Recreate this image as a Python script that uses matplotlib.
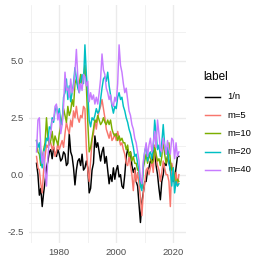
import numpy as np
import matplotlib
matplotlib.use("Agg")
import matplotlib.pyplot as plt
from matplotlib.lines import Line2D

# semi-annual observations 1972.0 .. 2022.0
years = np.arange(1972.0, 2022.01, 0.5)

s_1n = [0.5, 0.0, -0.9, -0.6, -1.4, -0.8, -0.3, 0.3, 0.6, 1.0,
        1.1, 0.7, 1.2, 0.9, 0.8, 1.1, 0.9, 0.6, 0.7, 1.0,
        0.9, 0.4, 0.5, 1.8, 1.0, 0.8, 0.3, -0.45, 0.2, 0.6,
        0.7, 0.4, 0.9, 0.2, 0.3, 0.6, 0.3, -0.8, -0.6, 0.2,
        0.5, 1.7, 1.2, 1.4, 1.0, 0.6, 1.0, 1.2, 0.5, 0.8,
        0.2, -0.4, 0.0, -0.3, 0.3, -0.2, 0.2, 0.4, -0.1, 0.0,
        -0.5, -0.6, 0.0, 0.8, 1.1, 0.9, 1.0, 0.4, 0.1, 0.3,
        -0.3, -0.5, -1.3, -2.1, -1.2, -0.8, -0.3, -0.3, 0.2, 0.3,
        0.6, 0.5, 1.0, 1.1, 0.4, 0.0, -0.6, -1.1, -0.3, 0.0,
        0.5, 0.4, 0.8, 0.6, 0.2, 0.0, -0.3, -0.2, 0.3, 0.8, 0.8]

s_m5 = [0.8, 0.3, 0.2, -0.4, -0.8, 0.2, 0.8, 1.3, 1.2, 1.5,
        1.4, 1.1, 1.3, 0.8, 1.0, 1.4, 1.1, 1.3, 1.5, 1.2,
        1.8, 2.3, 2.0, 1.8, 2.4, 2.1, 2.8, 2.5, 3.0, 2.5,
        2.3, 2.6, 2.5, 3.0, 2.9, 1.2, 0.2, -0.3, 0.6, 1.5,
        1.8, 2.4, 2.0, 2.5, 2.8, 3.0, 3.3, 2.9, 2.5, 2.0,
        1.8, 1.6, 1.9, 1.5, 1.6, 1.8, 1.5, 1.9, 1.6, 1.3,
        1.4, 1.1, 0.9, 0.5, 0.4, 0.8, 0.4, 0.0, -0.7, 0.2,
        -0.3, 0.1, -0.4, -1.0, -1.8, -0.8, -0.4, 0.2, 0.3, 0.0,
        0.3, 0.6, 0.1, 1.3, 0.8, 0.4, 0.2, -0.3, 0.1, 0.6,
        0.3, 0.0, 0.0, -0.3, -1.4, 0.5, 0.2, -0.4, 0.1, -0.5, 0.0]

s_m10 = [1.5, 1.0, 0.9, 0.4, 0.6, 1.1, 1.4, 2.5, 1.6, 1.3,
         1.5, 1.9, 1.3, 1.7, 1.5, 1.3, 1.8, 2.2, 2.5, 2.9,
         2.6, 2.3, 3.0, 2.6, 2.8, 3.3, 3.0, 4.0, 4.2, 3.9,
         4.0, 4.4, 4.0, 4.3, 4.8, 3.9, 2.3, 1.0, 1.2, 1.6,
         2.0, 2.4, 2.3, 2.6, 2.4, 2.2, 2.3, 2.5, 2.3, 2.2,
         2.4, 2.2, 2.4, 2.0, 1.8, 1.7, 1.8, 1.5, 1.7, 1.5,
         1.6, 1.4, 1.4, 1.1, 1.3, 0.8, 1.0, 0.6, 0.8, 0.5,
         0.5, 0.2, 0.2, -0.3, -0.6, 0.3, 0.6, 0.9, 0.5, 0.9,
         0.7, 0.5, 0.6, 1.2, 0.9, 0.6, 0.7, 0.4, 0.8, 1.5,
         0.9, 0.5, 0.7, 1.4, 0.6, 0.2, 0.3, -0.2, -0.4, -0.2, -0.3]

s_m20 = [1.5, 1.2, 1.4, 0.6, 0.3, 1.0, 1.2, 1.6, 1.5, 2.1,
         2.0, 2.5, 2.3, 2.8, 3.0, 2.6, 2.9, 2.3, 2.2, 3.4,
         3.6, 4.2, 3.3, 3.9, 3.2, 3.6, 4.0, 4.7, 4.2, 3.8,
         3.6, 4.1, 4.4, 4.0, 5.7, 4.4, 3.6, 2.4, 2.1, 2.5,
         2.4, 2.6, 2.9, 2.7, 2.8, 3.3, 3.8, 4.2, 4.3, 4.1,
         4.5, 3.9, 3.5, 3.0, 2.7, 3.0, 2.9, 3.4, 3.6, 3.3,
         3.4, 3.0, 2.8, 2.5, 2.3, 2.0, 1.8, 1.5, 1.2, 0.8,
         0.9, 0.5, 0.2, -0.5, -0.7, 0.4, 1.0, 1.3, 0.6, 0.9,
         1.0, 0.7, 1.2, 2.4, 1.8, 1.1, 1.3, 0.8, 1.4, 2.2,
         1.3, 0.9, 1.2, 0.5, 0.2, -0.5, 0.3, -0.8, -0.3, -0.5, -0.4]

s_m40 = [1.0, 2.4, 2.5, 1.2, 0.5, 1.0, 0.2, -0.5, 0.8, 1.5,
         1.8, 2.4, 2.4, 3.0, 3.1, 2.4, 2.7, 1.8, 2.2, 3.0,
         4.5, 3.7, 3.8, 3.4, 4.2, 3.6, 3.8, 4.5, 5.5, 4.3,
         3.6, 4.0, 3.7, 4.4, 4.3, 3.9, 4.1, 3.2, 3.6, 3.3,
         3.5, 3.1, 3.4, 3.1, 3.6, 4.2, 5.3, 4.6, 4.4, 3.8,
         3.6, 3.3, 3.5, 3.1, 3.0, 3.4, 3.2, 4.0, 5.7, 4.8,
         4.5, 4.0, 3.6, 3.8, 3.3, 2.8, 2.6, 2.2, 2.0, 1.6,
         1.4, 1.0, 0.6, -0.2, -0.4, 0.6, 1.0, 1.4, 0.8, 1.3,
         1.6, 1.0, 1.4, 1.9, 1.2, 2.4, 1.8, 1.1, 1.0, 1.6,
         1.3, 0.9, 1.5, 1.1, 0.9, 1.6, 1.5, 0.7, 1.4, 0.8, 1.0]

labels = ["1/n", "m=5", "m=10", "m=20", "m=40"]
series = [s_1n, s_m5, s_m10, s_m20, s_m40]
colors = ["#000000", "#F8766D", "#7CAE00", "#00BFC4", "#C77CFF"]

x_major = [1980, 2000, 2020]
x_minor = [1970, 1990, 2010]
y_major = [-2.5, 0.0, 2.5, 5.0]
y_minor = [-1.25, 1.25, 3.75, 6.25]

plt.rcParams['font.family'] = ['Liberation Sans', 'DejaVu Sans']

W = H = 263
fig = plt.figure(figsize=(W / 100, H / 100), dpi=100)
left, right, top, bottom = 29.4, 186.0, 5.0, 243.0
ax = fig.add_axes([left / W, 1 - bottom / H, (right - left) / W, (bottom - top) / H])

for lab, s, c in zip(labels, series, colors):
    ax.plot(years, s, color=c, lw=1.05, solid_joinstyle='round', zorder=3)

ax.set_xlim(1969.5, 2024.5)
ax.set_ylim(-3.0, 7.45)
ax.set_xticks(x_major)
ax.set_xticks(x_minor, minor=True)
ax.set_yticks(y_major)
ax.set_yticks(y_minor, minor=True)
ax.set_xticklabels([str(v) for v in x_major])
ax.set_yticklabels(["%.1f" % v for v in y_major])
ax.grid(which='major', color='#EBEBEB', lw=1.0)
ax.grid(which='minor', color='#EBEBEB', lw=0.5)
ax.set_axisbelow(True)
for sp in ax.spines.values():
    sp.set_visible(False)
ax.tick_params(which='both', length=0, labelsize=6.8, colors='#4D4D4D', pad=3.8)
ax.tick_params(axis='x', pad=3.4)

# legend (manual, ggplot style)
fig.text(203.5 / W, 1 - 76.7 / H, "label", fontsize=8.5, color='black',
         ha='left', va='center')
y0, dy = 97.0, 18.2
for i, (lab, c) in enumerate(zip(labels, colors)):
    yy = 1 - (y0 + i * dy) / H
    fig.add_artist(Line2D([204.5 / W, 220 / W], [yy, yy], color=c, lw=1.05))
    fig.text(227.3 / W, yy, lab, fontsize=6.8, color='black', ha='left', va='center')

fig.savefig("out.png", dpi=100)
